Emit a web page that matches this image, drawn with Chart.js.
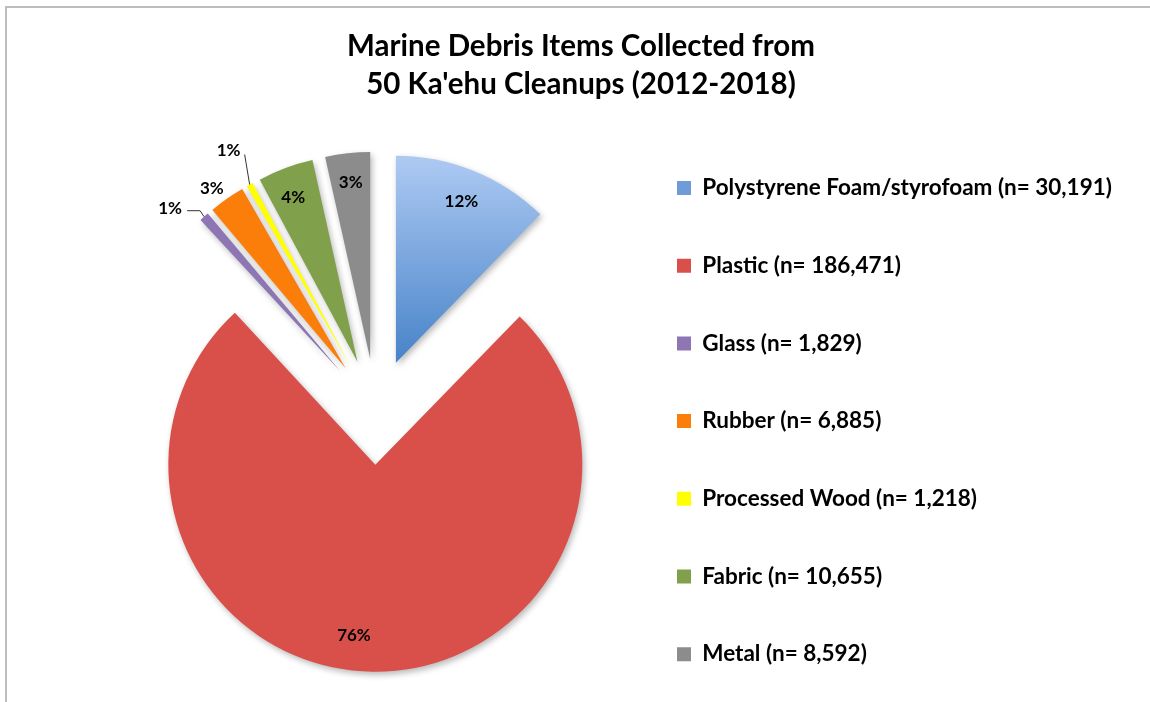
<!DOCTYPE html>
<html>
<head>
<meta charset="utf-8">
<script src="https://cdn.jsdelivr.net/npm/chart.js@4.4.1/dist/chart.umd.min.js"></script>
<style>
  html, body { margin: 0; padding: 0; background: #fff; overflow: hidden; }
  #wrap { position: relative; width: 1150px; height: 702px; }
  #frame { position: absolute; left: 5px; top: 6px; right: -10px; bottom: -10px;
           border-left: 2px solid #bdbdbd; border-top: 2px solid #bdbdbd; pointer-events: none; }
</style>
</head>
<body>
<div id="wrap">
  <canvas id="pieCanvas"></canvas>
  <div id="frame"></div>
</div>
<script>
// data
const categories = ['Polystyrene Foam/styrofoam', 'Plastic', 'Glass', 'Rubber', 'Processed Wood', 'Fabric', 'Metal'];
const counts = [30191, 186471, 1829, 6885, 1218, 10655, 8592];
const percentLabels = ['12%', '76%', '1%', '3%', '1%', '4%', '3%'];
const titleLines = ['Marine Debris Items Collected from', "50 Ka'ehu Cleanups (2012-2018)"];

const sliceColors = ['#6f9bd8', '#d9504a', '#8e76b4', '#fc7e0a', '#ffff00', '#80a04b', '#8c8c8c'];

// layout
const PIE_CX = 376, PIE_CY = 412, PIE_R = 207, EXPLODE = 53;
const LEGEND_SIZE = 22.5, LEGEND_STEP = 77.7, BOX = 14;
const LEGEND_PAD = LEGEND_STEP - LEGEND_SIZE;
const LEGEND_BOX_X = 677, LEGEND_FIRST_Y = 188;

const legendTexts = categories.map((c, i) => c + ' (n= ' + counts[i].toLocaleString('en-US') + ')');

const mctx = document.createElement('canvas').getContext('2d');
mctx.font = 'bold ' + LEGEND_SIZE + 'px Lato';
const textW = Math.max(...legendTexts.map(t => mctx.measureText(t).width));
const legendLeft = LEGEND_BOX_X - LEGEND_PAD;
const padL = 2 * PIE_CX - legendLeft;
const legendW = LEGEND_PAD + BOX + LEGEND_SIZE / 2 + textW + 10;
let padR = 1150 - legendLeft - legendW;
if (legendW > legendLeft - padL) padR = 1150 + padL - 2 * legendLeft;
// the chart area stops at the canvas bottom, the legend box may run past it
const padT = LEGEND_FIRST_Y - LEGEND_SIZE / 2 - LEGEND_PAD;
const padB = -60;

// label spots: k/da = distance (share of radius) and angle shift from the slice tip,
// dx/dy = offset from the outer edge, leader = line points from the outer edge
const labelPlacement = [
  { k: 0.84, da: 0 },
  { k: 0.83, da: 6.4 },
  { dx: -34, dy: -8, leader: [[0, 0], [-4, -6], [-17, -6]] },
  { dx: -15, dy: -10 },
  { dx: -21, dy: -34, leader: [[0, 0], [-5, -30]] },
  { k: 0.853, da: -1 },
  { k: 0.857, da: 0 }
];

const explodePlugin = {
  id: 'explode',
  beforeDatasetDraw(chart, args) {
    const ctx = chart.ctx;
    args.meta.data.forEach(arc => {
      const mid = (arc.startAngle + arc.endAngle) / 2;
      ctx.save();
      ctx.translate(Math.cos(mid) * EXPLODE, Math.sin(mid) * EXPLODE);
      ctx.shadowColor = 'rgba(0,0,0,0.28)';
      ctx.shadowBlur = 6;
      ctx.shadowOffsetX = 2;
      ctx.shadowOffsetY = 3;
      arc.draw(ctx);
      ctx.restore();
    });
    return false;
  }
};

const labelPlugin = {
  id: 'pieLabels',
  afterDatasetsDraw(chart) {
    const ctx = chart.ctx;
    const arcs = chart.getDatasetMeta(0).data;
    ctx.save();
    ctx.font = 'bold 17px Lato';
    ctx.fillStyle = '#000';
    ctx.textAlign = 'center';
    ctx.textBaseline = 'middle';
    arcs.forEach((arc, i) => {
      const p = labelPlacement[i];
      const mid = (arc.startAngle + arc.endAngle) / 2;
      const ax = arc.x + Math.cos(mid) * EXPLODE;
      const ay = arc.y + Math.sin(mid) * EXPLODE;
      let x, y;
      if (p.k !== undefined) {
        const a = mid + p.da * Math.PI / 180;
        x = ax + Math.cos(a) * arc.outerRadius * p.k;
        y = ay + Math.sin(a) * arc.outerRadius * p.k;
      } else {
        const ox = ax + Math.cos(mid) * arc.outerRadius;
        const oy = ay + Math.sin(mid) * arc.outerRadius;
        if (p.leader) {
          ctx.beginPath();
          p.leader.forEach((pt, j) => {
            if (j === 0) ctx.moveTo(ox + pt[0], oy + pt[1]);
            else ctx.lineTo(ox + pt[0], oy + pt[1]);
          });
          ctx.strokeStyle = '#333';
          ctx.lineWidth = 1;
          ctx.stroke();
        }
        x = ox + p.dx;
        y = oy + p.dy;
      }
      ctx.fillText(percentLabels[i], x, y);
    });
    ctx.restore();
  }
};

const titlePlugin = {
  id: 'twoLineTitle',
  afterDraw(chart) {
    const ctx = chart.ctx;
    ctx.save();
    ctx.font = 'bold 29.5px Lato';
    ctx.fillStyle = '#000';
    ctx.textAlign = 'center';
    ctx.textBaseline = 'middle';
    ctx.fillText(titleLines[0], 581, 46);
    ctx.fillText(titleLines[1], 581, 84);
    ctx.restore();
  }
};

Chart.defaults.font.family = 'Lato';
Chart.defaults.color = '#000';

const pieCanvas = document.getElementById('pieCanvas');
const pieChart = new Chart(pieCanvas, {
  type: 'pie',
  data: {
    labels: categories,
    datasets: [{
      data: counts,
      radius: PIE_R,
      borderWidth: 0,
      backgroundColor: c => {
        if (c.dataIndex !== 0 || !c.chart.chartArea) return sliceColors[c.dataIndex];
        const cy = (c.chart.chartArea.top + c.chart.chartArea.bottom) / 2;
        const g = c.chart.ctx.createLinearGradient(0, cy - PIE_R, 0, cy);
        g.addColorStop(0, '#aecaf3');
        g.addColorStop(1, '#4783c8');
        return g;
      }
    }]
  },
  options: {
    responsive: true,
    maintainAspectRatio: false,
    animation: false,
    radius: PIE_R,
    layout: { padding: { left: padL, right: padR, top: padT, bottom: padB } },
    plugins: {
      tooltip: { enabled: false },
      title: { display: false },
      legend: {
        position: 'right',
        align: 'start',
        labels: {
          font: { size: LEGEND_SIZE, weight: 'bold' },
          color: '#000',
          padding: LEGEND_PAD,
          boxWidth: BOX,
          boxHeight: BOX,
          generateLabels: () => legendTexts.map((t, i) => ({
            text: t,
            fillStyle: sliceColors[i],
            strokeStyle: sliceColors[i],
            lineWidth: 0,
            hidden: false,
            index: i
          }))
        }
      }
    }
  },
  plugins: [explodePlugin, labelPlugin, titlePlugin]
});
</script>
</body>
</html>
